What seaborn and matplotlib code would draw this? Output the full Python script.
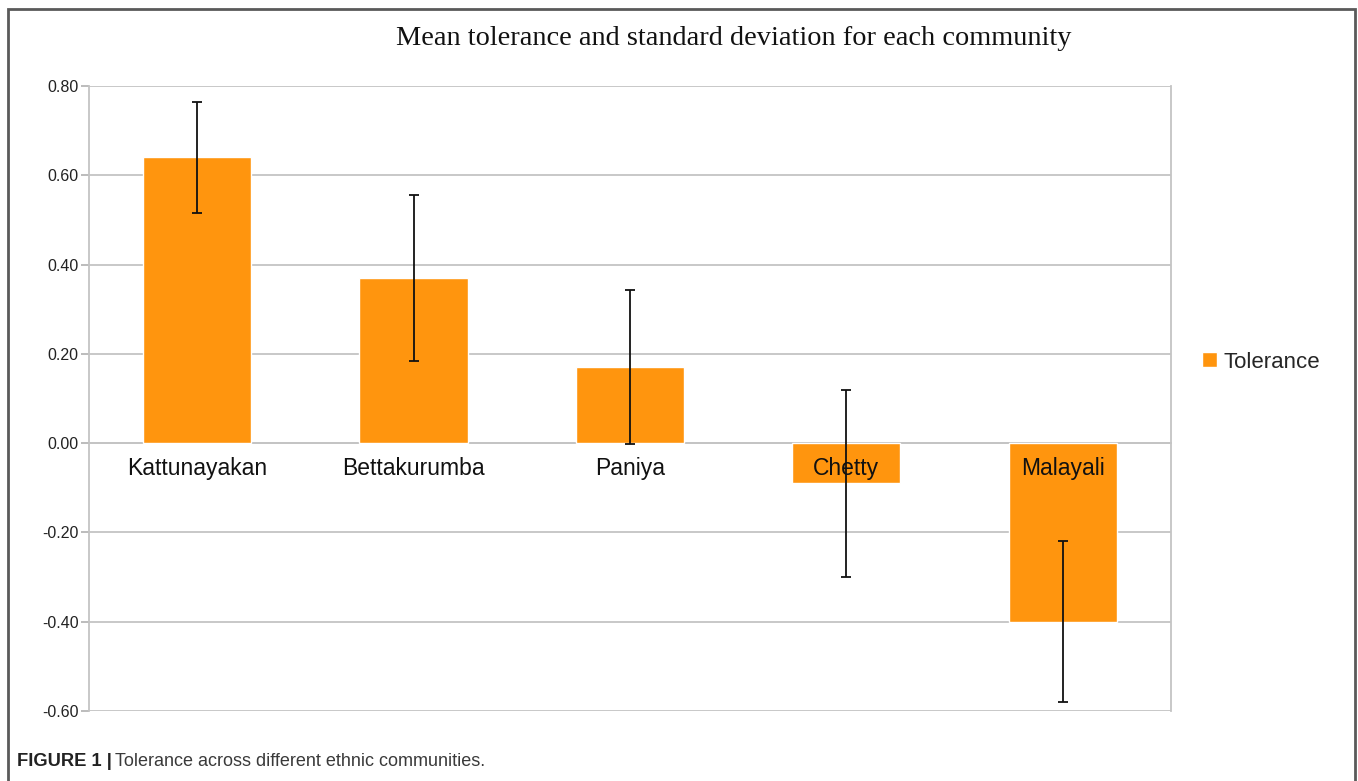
import matplotlib
matplotlib.use("Agg")
import matplotlib.pyplot as plt
import seaborn as sns
import pandas as pd
from matplotlib.patches import Rectangle
from matplotlib.ticker import FixedLocator

communities = ["Kattunayakan", "Bettakurumba", "Paniya", "Chetty", "Malayali"]
mean_tolerance = [0.64, 0.37, 0.17, -0.09, -0.40]
std_dev = [0.125, 0.185, 0.173, 0.21, 0.18]
yticks = [-0.6, -0.4, -0.2, 0.0, 0.2, 0.4, 0.6, 0.8]

df = pd.DataFrame({"community": communities, "tolerance": mean_tolerance})

sns.set_style("white")
plt.rcParams["font.family"] = ["Liberation Sans", "DejaVu Sans"]

fig = plt.figure(figsize=(13.58, 7.81), dpi=100)
ax = fig.add_axes([0.0655, 0.0896, 0.7968, 0.8003])

sns.barplot(data=df, x="community", y="tolerance", color="#ff950e",
            saturation=1, width=0.5, errorbar=None, label="Tolerance", ax=ax)
ax.errorbar(range(len(communities)), mean_tolerance, yerr=std_dev, fmt="none",
            ecolor="#111111", elinewidth=1.3, capsize=3.5, capthick=1.3, zorder=7)

ax.set_xlim(-0.5, len(communities) - 0.5)
ax.set_ylim(-0.6, 0.8)
ax.set_yticks(yticks)
ax.set_yticklabels([f"{v:.2f}" for v in yticks], fontsize=11.5, color="#222222")
ax.yaxis.grid(True, color="#c4c4c4", linewidth=1.3)
ax.set_axisbelow(True)
ax.set_xlabel("")
ax.set_ylabel("")

# category axis sits on the zero line, labels drawn over the bars
ax.spines["bottom"].set_position(("data", 0))
ax.xaxis.set_minor_locator(FixedLocator([i - 0.5 for i in range(1, len(communities))]))
ax.tick_params(axis="x", which="major", length=0, pad=10, labelsize=16.5, labelcolor="#111111")
ax.tick_params(axis="x", which="minor", length=5, color="#b0b0b0", width=1.2, direction="out")
ax.tick_params(axis="y", length=5.5, color="#b0b0b0", width=1.2, direction="out", pad=2, left=True)
ax.xaxis.set_zorder(6)
for side in ["left", "right", "bottom"]:
    ax.spines[side].set_visible(True)
    ax.spines[side].set_color("#c4c4c4")
    ax.spines[side].set_linewidth(1.3)
ax.spines["top"].set_visible(False)
ax.spines["bottom"].set_zorder(0.5)

ax.legend(loc="center left", bbox_to_anchor=(1.0105, 0.5 - (362 - 398.5) / 625), frameon=False,
          fontsize=16, handlelength=0.65, handleheight=0.65, handletextpad=0.3)

fig.text(0.5405, 0.951, "Mean tolerance and standard deviation for each community",
         ha="center", va="center", fontsize=20.4, family="Liberation Serif", color="#111111")

# outer frame
fig.patches.append(Rectangle((8 / 1358, -0.02), 1347 / 1358, 1.02 - 9 / 781,
                             transform=fig.transFigure, fill=False,
                             edgecolor="#5a5a5a", linewidth=2))

# caption
cap1 = fig.text(17 / 1358, 1 - 761 / 781, "FIGURE 1 |", fontsize=13.2, fontweight="bold",
                va="center", ha="left", color="#222222")
fig.canvas.draw()
bb = cap1.get_window_extent(fig.canvas.get_renderer())
fig.text(bb.x1 / 1358 + 3 / 1358, 1 - 761 / 781, "Tolerance across different ethnic communities.",
         fontsize=13.0, va="center", ha="left", color="#3a3a3a")

fig.savefig("out.png", dpi=100)
